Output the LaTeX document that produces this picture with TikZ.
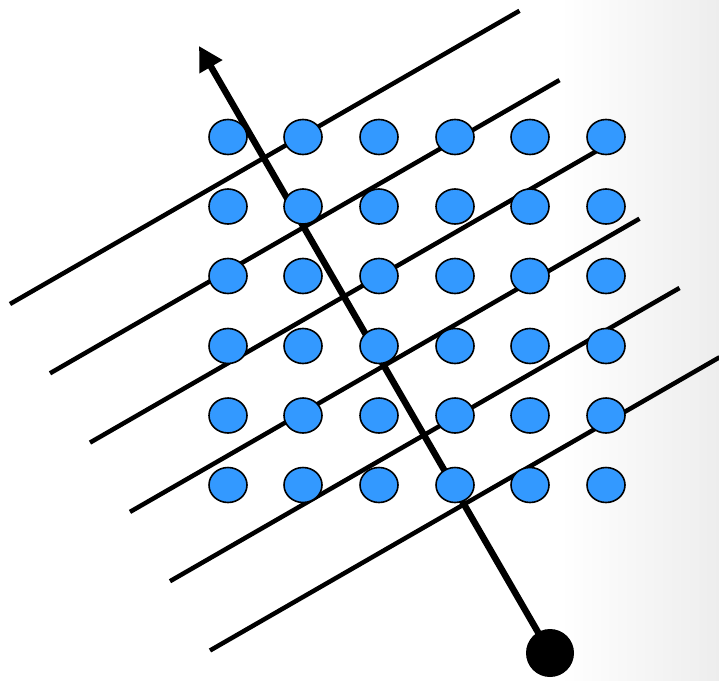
\documentclass[tikz,border=0pt]{standalone}
\usetikzlibrary{shapes.geometric,arrows.meta}
\definecolor{dotblue}{RGB}{51,153,255}
\tikzset{
  gdot/.style={ellipse,draw=black,line width=1.6pt,fill=dotblue,minimum width=38pt,minimum height=35pt,inner sep=0pt},
  pline/.style={line width=4.5pt,black},
  axisarrow/.style={line width=6.5pt,black,-{Triangle[length=24pt,width=25pt]}},
  origin/.style={circle,fill=black,minimum size=48pt,inner sep=0pt}
}
\begin{document}
\begin{tikzpicture}[x=1pt,y=-1pt]
\useasboundingbox (0,0) rectangle (719,680);
\fill[white] (0,0) rectangle (719,680);
\shade[left color=white,right color=black!7] (560,0) rectangle (719,680);
% parallel lines
\foreach \k in {0,...,5}{
  \coordinate (ls\k) at ({10+40*\k},{304+69.3*\k});
  \coordinate (le\k) at ({519.5+40*\k},{10.8+69.3*\k});
  \draw[pline] (ls\k) -- (le\k);
}
% arrow
\node[origin] (o) at (550,653) {};
\coordinate (tip) at (199,46);
\draw[axisarrow] (o.center) -- (tip);
% dots
\foreach \r/\y in {1/137,2/206.5,3/276,4/346,5/415.5,6/485}{
  \foreach \c/\x in {1/228,2/303,3/379,4/455,5/530,6/606}{
    \node[gdot] (d\r\c) at (\x,\y) {};
  }
}
\end{tikzpicture}
\end{document}
